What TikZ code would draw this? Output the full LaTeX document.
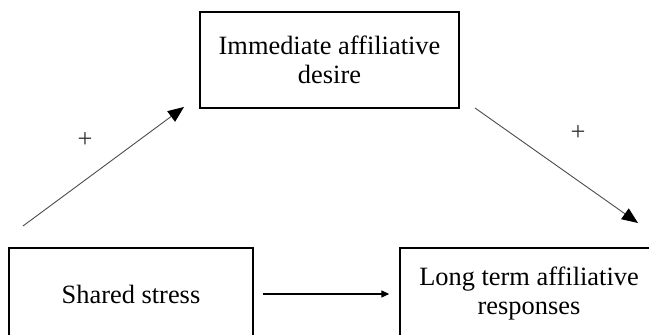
\documentclass[tikz,border=0pt]{standalone}
\usepackage{fontspec}
\setmainfont{Liberation Serif}
\usetikzlibrary{arrows.meta,positioning}

\begin{document}
\begin{tikzpicture}[
  x=0.5pt, y=-0.5pt,
  font=\fontsize{13.2}{14.5}\selectfont,
  box/.style={draw=black,line width=0.7pt,minimum width=#1,minimum height=46pt,inner sep=0pt,align=center},
  path/.style={draw=black!70,line width=0.45pt,-{Triangle[length=8pt,width=6.5pt,color=black]}},
  direct/.style={draw=black,line width=0.65pt,-{Triangle[length=4pt,width=3.5pt]}},
  sign/.style={text=black!80}
]
\clip (0,0) rectangle (649,335);

\node (imm) [box=129.5pt, minimum height=48pt] at (329.5,60) {Immediate affiliative\\desire};
\node (sha) [box=122pt] at (131,294) {Shared stress};
\node (lon) [box=129pt] at (529,294) {Long term affiliative\\responses};

\coordinate (up0) at (23,226);
\coordinate (up1) at (184,107);
\coordinate (dn0) at (475,108);
\coordinate (dn1) at (638,223);

\draw[path] (up0) -- (up1);
\draw[path] (dn0) -- (dn1);
\draw[direct, shorten <=9pt*0.5, shorten >=10pt*0.5] (sha) -- (lon);

\node (pl1) [sign] at (85,140) {+};
\node (pl2) [sign] at (578,133) {+};
\end{tikzpicture}
\end{document}
